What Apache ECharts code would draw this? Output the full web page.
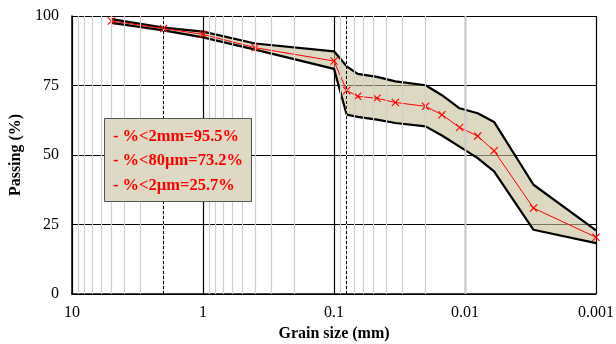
<!DOCTYPE html>
<html>
<head>
<meta charset="utf-8">
<script src="https://cdn.jsdelivr.net/npm/echarts@6/dist/echarts.min.js"></script>
<style>
  html, body { margin: 0; padding: 0; background: #fff; }
  #chart { width: 616px; height: 344px; }
</style>
</head>
<body>
<div id="chart"></div>
<script>
// Grain size (mm) of each measured point, coarse to fine
const grainSize = [5, 2, 1, 0.4, 0.1, 0.08, 0.066, 0.047, 0.034, 0.02, 0.015, 0.011, 0.008, 0.006, 0.003, 0.001];
// Percent passing of the sample
const passing = [98.2, 95.5, 93.4, 88.6, 83.8, 73.2, 71.1, 70.4, 68.9, 67.5, 64.5, 59.9, 56.8, 51.5, 30.9, 20.4];
// Upper and lower bounds of the grading envelope
const upperBound = [98.9, 95.8, 94.4, 90.1, 87.3, 81.9, 79.2, 78.1, 76.5, 75.1, 71.5, 66.8, 65.0, 61.9, 39.3, 22.9];
const lowerBound = [97.5, 94.8, 92.3, 87.9, 81.0, 64.5, 63.7, 62.7, 61.5, 60.3, 57.0, 53.0, 48.9, 44.1, 23.1, 18.3];
// Size limits (gravel / sand / silt / clay) drawn as dashed lines
const sizeLimits = [2, 0.08, 0.002];
// Decades of the logarithmic size axis
const decades = [10, 1, 0.1, 0.01];
const yTicks = [0, 25, 50, 75, 100];
// Summary lines of the annotation box
const summary = ['- %<2mm=95.5%', '- %<80\u00b5m=73.2%', '- %<2\u00b5m=25.7%'];

const FONT = '"Liberation Serif", "Times New Roman", serif';

// Minor grid lines at 2..9 within every decade
const minorLines = [];
decades.forEach(function (d) {
  for (let k = 2; k <= 9; k++) minorLines.push({ xAxis: d * k / 10 });
});

const chart = echarts.init(document.getElementById('chart'), null, { renderer: 'canvas' });

const xMarker = 'path://M0,1L1,0L5,4L9,0L10,1L6,5L10,9L9,10L5,6L1,10L0,9L4,5Z';

chart.setOption({
  animation: false,
  backgroundColor: '#fff',
  grid: { left: 72, right: 20, top: 16, bottom: 50, containLabel: false, outerBoundsMode: 'none' },
  xAxis: {
    type: 'log',
    logBase: 10,
    inverse: true,
    min: 0.001,
    max: 10,
    name: 'Grain size (mm)',
    nameLocation: 'middle',
    nameGap: 30,
    nameTextStyle: { fontFamily: FONT, fontWeight: 'bold', fontSize: 16, color: '#000' },
    axisLine: { show: true, lineStyle: { color: '#000', width: 1.5 } },
    axisTick: { show: false },
    axisLabel: {
      fontFamily: FONT, fontSize: 16, color: '#000', margin: 11,
      formatter: function (v) { return String(v); }
    },
    splitLine: { show: true, lineStyle: { color: '#000', width: 1.2 } },
    minorTick: { show: false },
    minorSplitLine: { show: false }
  },
  yAxis: {
    type: 'value',
    min: yTicks[0],
    max: yTicks[yTicks.length - 1],
    interval: 25,
    name: 'Passing (%)',
    nameLocation: 'middle',
    nameGap: 46,
    nameTextStyle: { fontFamily: FONT, fontWeight: 'bold', fontSize: 16, color: '#000' },
    axisLine: { show: true, lineStyle: { color: '#000', width: 1.5 } },
    axisTick: { show: false },
    axisLabel: { fontFamily: FONT, fontSize: 16, color: '#000', margin: 13 },
    splitLine: { show: true, lineStyle: { color: '#000', width: 1.2 } }
  },
  series: [
    {
      // grid helpers: minor decade lines and dashed size limits
      type: 'line',
      data: [],
      silent: true,
      z: 1,
      markLine: {
        silent: true,
        symbol: 'none',
        label: { show: false },
        lineStyle: { color: '#cfcfcf', width: 1.2, type: 'solid' },
        data: minorLines
      }
    },
    {
      type: 'line',
      data: [],
      silent: true,
      z: 1,
      markLine: {
        silent: true,
        symbol: 'none',
        label: { show: false },
        lineStyle: { color: '#000', width: 1, type: [3, 2] },
        data: sizeLimits.map(function (s) { return { xAxis: s }; })
      }
    },
    {
      // shaded envelope between the bounds
      type: 'custom',
      z: 2,
      silent: true,
      data: grainSize.map(function (s, i) { return [s, upperBound[i], lowerBound[i]]; }),
      renderItem: function (params, api) {
        if (params.dataIndex !== 0) return null;
        const pts = [];
        for (let i = 0; i < grainSize.length; i++) pts.push(api.coord([grainSize[i], upperBound[i]]));
        for (let i = grainSize.length - 1; i >= 0; i--) pts.push(api.coord([grainSize[i], lowerBound[i]]));
        return {
          type: 'polygon',
          shape: { points: pts },
          style: { fill: 'rgba(196,190,152,0.6)', stroke: 'none' }
        };
      }
    },
    {
      name: 'Upper',
      type: 'line',
      z: 3,
      symbol: 'none',
      data: grainSize.map(function (s, i) { return [s, upperBound[i]]; }),
      lineStyle: { color: '#000', width: 2.2 }
    },
    {
      name: 'Lower',
      type: 'line',
      z: 3,
      symbol: 'none',
      data: grainSize.map(function (s, i) { return [s, lowerBound[i]]; }),
      lineStyle: { color: '#000', width: 2.2 }
    },
    {
      name: 'Passing',
      type: 'line',
      z: 4,
      symbol: xMarker,
      symbolSize: 8,
      itemStyle: { color: '#ff0000' },
      data: grainSize.map(function (s, i) { return [s, passing[i]]; }),
      lineStyle: { color: '#ff0000', width: 1 }
    }
  ],
  graphic: [
    {
      type: 'rect',
      z: 100,
      left: 104,
      top: 118,
      shape: { width: 147, height: 83 },
      style: { fill: '#ddd9c4', stroke: '#555', lineWidth: 1 }
    }
  ].concat(summary.map(function (t, i) {
    return {
      type: 'text',
      z: 101,
      left: 113,
      top: 128 + i * 24.5,
      style: {
        text: t,
        fill: '#ff0000',
        fontFamily: FONT,
        fontWeight: 'bold',
        fontSize: 16.5
      }
    };
  }))
});
</script>
</body>
</html>
